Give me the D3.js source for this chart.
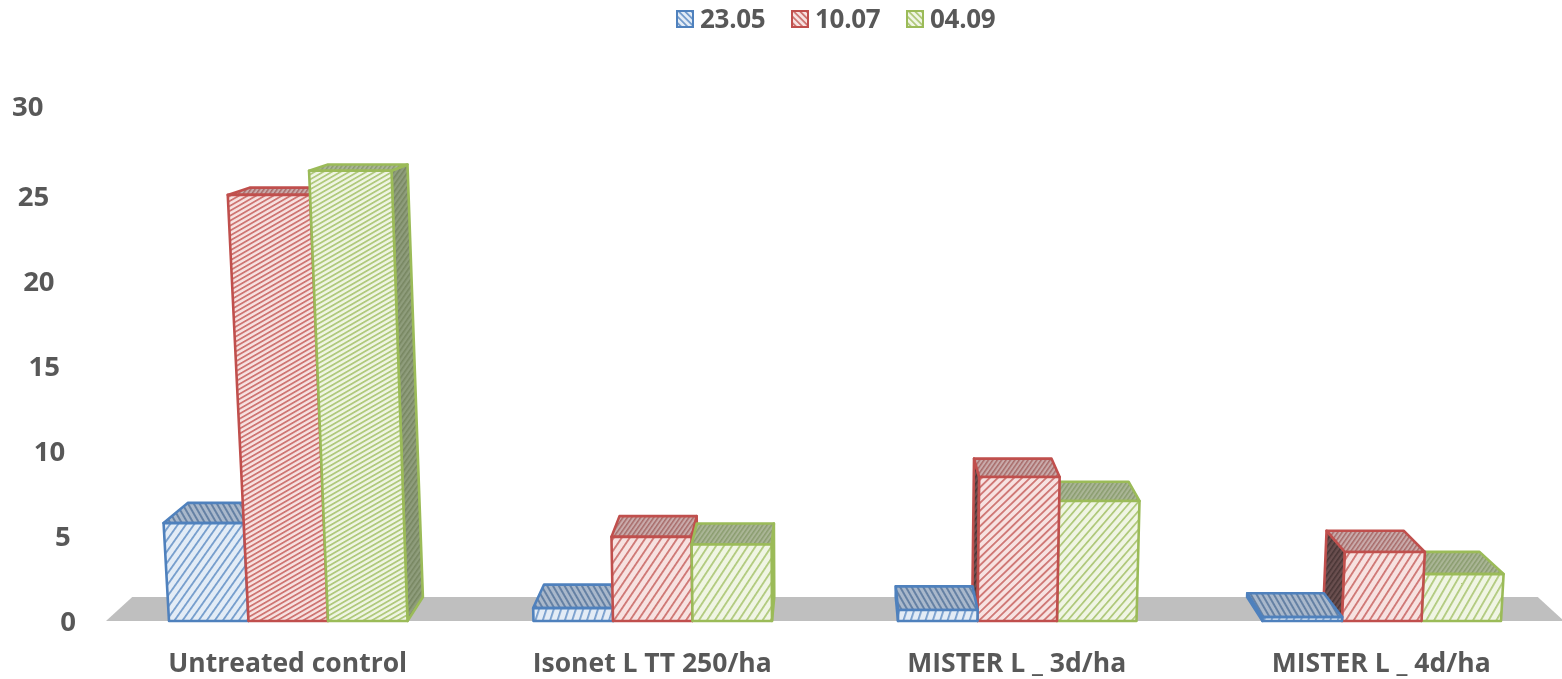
<!DOCTYPE html>
<html><head><meta charset="utf-8">
<script src="https://cdn.jsdelivr.net/npm/d3@7"></script>
<style>html,body{margin:0;background:#fff;overflow:hidden}text{font-family:"Open Sans",Lato,sans-serif;font-weight:700;fill:#595959}</style>
</head><body><svg id="c" width="1562" height="679"></svg>
<script>
const categories = ["Untreated control","Isonet L TT 250/ha","MISTER L _ 3d/ha","MISTER L _ 4d/ha"];
const seriesNames = ["23.05","10.07","04.09"];
const v2305 = [5.76,0.76,0.65,0.23];
const v1007 = [25.06,4.95,8.47,4.06];
const v0409 = [26.4,4.5,7.06,2.76];
const tickValues = [0,5,10,15,20,25,30];
const seriesValues = [v2305,v1007,v0409];

const palette = [
 {line:"#4f81bd",tint:"#e3ecf6",topB:"#a9b8cb",topS:"#4f6f96",sideB:"#7f8fa6",sideS:"#3f5a80"},
 {line:"#c0504d",tint:"#f7e2e1",topB:"#c9abab",topS:"#9c5553",sideB:"#6b5050",sideS:"#3d2c2c"},
 {line:"#9bbb59",tint:"#f0f5e4",topB:"#aab596",topS:"#7f9460",sideB:"#8f9d7c",sideS:"#6e7f58"}
];
const svg = d3.select("#c"), defs = svg.append("defs");
const cx = 835, vy = 10, kzY = 0.0393, kzX = 0.036, lean = 8.3e-5, base = 621;
defs.append("filter").attr("id","soft").append("feGaussianBlur").attr("stdDeviation",0.4);
defs.append("filter").attr("id","softText").append("feGaussianBlur").attr("stdDeviation",0.3);

const x0 = d3.scaleBand().domain(categories).range([106,1564]).paddingInner(0).paddingOuter(0);
const x1 = d3.scaleBand().domain(seriesNames).range([63,301.5]);
const y = d3.scaleLinear().domain([0,25,30]).range([base,196,106]);
const angleOf = d3.scaleLog().domain([13,47,97,144,426]).range([72,60,55,44,30]).clamp(true);
const gapOf = d3.scaleLog().domain([13,97,144,426]).range([7,6.6,5.6,4.3]).clamp(true);

function project(X, value, z){
  const yy = y(value);
  const xf = cx + (X-cx)*(1+lean*(base-yy));
  return [cx+(xf-cx)*(1-kzX*z), vy+(yy-vy)*(1-kzY*z)];
}
let pid = 0;
function stripes(bg, fg, gap, width, rot){
  const id = "p"+(pid++);
  const p = defs.append("pattern").attr("id",id).attr("patternUnits","userSpaceOnUse")
    .attr("width",gap).attr("height",gap).attr("patternTransform",`rotate(${rot})`);
  p.append("rect").attr("width",gap).attr("height",gap).attr("fill",bg);
  p.append("rect").attr("width",width).attr("height",gap).attr("fill",fg).attr("fill-opacity",0.75);
  return `url(#${id})`;
}
const poly = d3.line();
function face(g, pts, fill, color){
  g.append("path").attr("d",poly(pts)+"Z").attr("fill",fill).attr("stroke",color)
   .attr("stroke-width",2.6).attr("stroke-linejoin","round");
}

const scene = svg.append("g").attr("filter","url(#soft)");
// floor
scene.append("path").attr("fill","#bfbfbf")
  .attr("d",poly([project(106,0,0),project(1564,0,0),project(1564,0,1),project(106,0,1)])+"Z");

// bars, painted from the outside toward the vanishing point
const bars = [];
categories.forEach((c,i)=>seriesNames.forEach((s,j)=>{
  const a = x0(c)+x1(s), b = a+x1.bandwidth();
  bars.push({i,j,a,b,v:seriesValues[j][i]});
}));
bars.sort((p,q)=>Math.abs(q.a+q.b-2*cx)-Math.abs(p.a+p.b-2*cx));
const gb = scene.append("g");
bars.forEach(d=>{
  const col = palette[d.j], g = gb.append("g");
  const h = base-y(d.v);
  const F = project;
  const side = d.b<cx ? d.b : d.a;
  face(g,[F(side,0,0),F(side,0,1),F(side,d.v,1),F(side,d.v,0)],
       stripes(col.sideB,col.sideS,4,1.6,35),col.line);
  const topRot = d.j===0 ? -30 : 35;
  face(g,[F(d.a,d.v,0),F(d.b,d.v,0),F(d.b,d.v,1),F(d.a,d.v,1)],
       stripes(col.topB,col.topS,d.j===0?5:3.6,d.j===0?2:1.5,topRot),col.line);
  face(g,[F(d.a,0,0),F(d.b,0,0),F(d.b,d.v,0),F(d.a,d.v,0)],
       stripes(col.tint,col.line,gapOf(h),1.8,90-angleOf(h)),col.line);
});

const labels = svg.append("g").attr("filter","url(#softText)");
// value axis labels, following the leaning axis
tickValues.forEach(t=>{
  const p = project(76,t,0);
  labels.append("text").attr("x",p[0]).attr("y",y(t)+10).attr("text-anchor","end")
    .attr("font-size",27.5).text(t);
});
// category labels
categories.forEach(c=>{
  labels.append("text").attr("x",x0(c)+x0.bandwidth()/2-0.5).attr("y",672).attr("text-anchor","middle")
    .attr("font-size",26.5).text(c);
});
// legend
const legendX = d3.scaleOrdinal().domain(seriesNames).range([676,791,906]);
seriesNames.forEach((s,j)=>{
  const col = palette[j], g = labels.append("g").attr("transform",`translate(${legendX(s)},10)`);
  g.append("rect").attr("x",1).attr("y",1).attr("width",16).attr("height",16)
   .attr("fill",stripes(col.tint,col.line,4.5,1.8,-45)).attr("stroke",col.line).attr("stroke-width",2);
  g.append("text").attr("x",24).attr("y",17.5).attr("font-size",26).attr("letter-spacing",-0.3).text(s);
});
</script></body></html>
